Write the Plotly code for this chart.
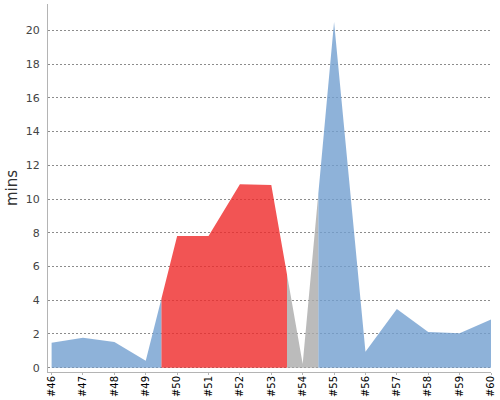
import plotly.graph_objects as go

builds = ["#46", "#47", "#48", "#49", "#50", "#51", "#52", "#53",
          "#54", "#55", "#56", "#57", "#58", "#59", "#60"]
durations = [1.48, 1.78, 1.52, 0.41, 7.8, 7.8, 10.88, 10.83,
             0.22, 20.5, 0.95, 3.48, 2.12, 2.04, 2.85]
status = ["success", "success", "success", "success",
          "failure", "failure", "failure", "failure",
          "aborted", "success", "success", "success", "success", "success", "success"]

colors = {"success": "rgba(114,159,207,0.8)",
          "failure": "rgba(239,41,41,0.8)",
          "aborted": "rgba(170,170,170,0.8)"}

n = len(builds)
pos = list(range(n))

# group consecutive builds with the same result into one area
runs = []
start = 0
for i in range(1, n + 1):
    if i == n or status[i] != status[start]:
        runs.append((start, i - 1))
        start = i

fig = go.Figure()
for a, b in runs:
    if a == 0:
        xl, yl = pos[0], durations[0]
    else:
        xl, yl = (pos[a - 1] + pos[a]) / 2, (durations[a - 1] + durations[a]) / 2
    if b == n - 1:
        xr, yr = pos[-1], durations[-1]
    else:
        xr, yr = (pos[b] + pos[b + 1]) / 2, (durations[b] + durations[b + 1]) / 2
    xs = [xl, xl] + pos[a:b + 1] + [xr, xr]
    ys = [0, yl] + durations[a:b + 1] + [yr, 0]
    fig.add_trace(go.Scatter(
        x=xs, y=ys, fill="toself", mode="lines",
        line=dict(width=0), fillcolor=colors[status[a]],
        hoverinfo="skip", showlegend=False))

fig.update_layout(
    width=500, height=400,
    margin=dict(l=48, r=9, t=4, b=28),
    paper_bgcolor="white", plot_bgcolor="white",
    font=dict(family="DejaVu Sans", color="#444"),
)
fig.update_xaxes(
    range=[-0.115, 14.0], automargin=False,
    tickmode="array", tickvals=pos, ticktext=builds,
    tickangle=-90, tickfont=dict(size=10, color="black"),
    ticklabelstandoff=-3,
    showgrid=False, zeroline=False,
    showline=True, linecolor="#b4b4b4", linewidth=1,
    ticks="outside", ticklen=2, tickcolor="#b4b4b4",
)
fig.update_yaxes(
    range=[-0.255, 21.56], automargin=False,
    dtick=2, tickfont=dict(size=11, color="#444"),
    showgrid=True, gridcolor="#8c8c8c", griddash="2px,2px", gridwidth=1,
    zeroline=False,
    showline=True, linecolor="#b4b4b4", linewidth=1,
    ticks="", ticklabelstandoff=5,
    title=dict(text="mins", font=dict(size=15, color="#333"), standoff=4),
)

# page body has a default 8px margin; drop it so the chart sits at the corner
fig.write_html("out.html", config={"displayModeBar": False},
               post_script="document.body.style.margin='0';")
